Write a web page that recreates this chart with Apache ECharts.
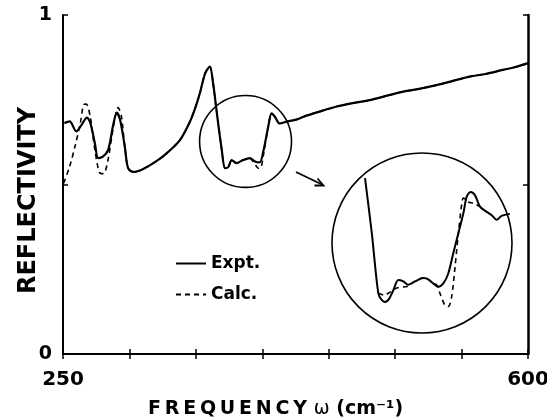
<!DOCTYPE html>
<html>
<head>
<meta charset="utf-8">
<script src="https://cdn.jsdelivr.net/npm/echarts@6/dist/echarts.min.js"></script>
<style>
html,body{margin:0;padding:0;background:#fff;}
#chart{width:547px;height:419px;}
</style>
</head>
<body>
<div id="chart"></div>
<script>
// 主图 实验曲线
var exptFreq = [251, 255, 260, 264, 268, 270.5, 274, 276.5, 280, 284, 288, 290.5, 293, 296.5, 299, 303, 310, 320, 328, 338, 345.5, 349.5, 353, 357, 360.5, 363, 365.5, 369.5, 372, 374.5, 377, 380.5, 385.5, 390.5, 394.5, 398, 401, 404.5, 407, 409.5, 413, 418, 426, 431, 443, 456, 468, 481, 494, 506, 518, 531, 543, 556, 568, 581, 590, 600];
var exptRefl = [0.681, 0.686, 0.657, 0.676, 0.697, 0.683, 0.621, 0.578, 0.582, 0.602, 0.680, 0.712, 0.690, 0.612, 0.548, 0.537, 0.545, 0.568, 0.592, 0.631, 0.685, 0.725, 0.769, 0.828, 0.848, 0.798, 0.720, 0.602, 0.548, 0.552, 0.572, 0.563, 0.572, 0.578, 0.568, 0.565, 0.602, 0.671, 0.710, 0.700, 0.680, 0.685, 0.692, 0.700, 0.715, 0.730, 0.740, 0.749, 0.762, 0.774, 0.782, 0.793, 0.805, 0.818, 0.826, 0.838, 0.846, 0.858];
// 主图 计算曲线
var calcFreq = [250.5, 255, 259, 263, 265.5, 267.5, 270.5, 274, 277.5, 280.5, 283.5, 288, 291.5, 294, 296.5, 299, 303, 310, 320, 328, 338, 345.5, 349.5, 353, 357, 360.5, 363, 365.5, 369.5, 372, 374.5, 377, 380.5, 385.5, 390.5, 394.5, 397, 399, 401, 404.5, 407, 409.5, 413, 418, 426, 431, 443, 456, 468, 481, 494, 506, 518, 531, 543, 556, 568, 581, 590, 600];
var calcRefl = [0.504, 0.553, 0.612, 0.680, 0.735, 0.737, 0.700, 0.602, 0.535, 0.532, 0.565, 0.671, 0.727, 0.700, 0.612, 0.548, 0.537, 0.545, 0.568, 0.592, 0.631, 0.685, 0.725, 0.769, 0.828, 0.848, 0.798, 0.720, 0.602, 0.548, 0.552, 0.572, 0.563, 0.572, 0.578, 0.560, 0.548, 0.550, 0.590, 0.671, 0.710, 0.700, 0.680, 0.685, 0.692, 0.700, 0.715, 0.730, 0.740, 0.749, 0.762, 0.774, 0.782, 0.793, 0.805, 0.818, 0.826, 0.838, 0.846, 0.858];
// 放大图
var insetExptFreq = [365.5, 368.1, 370.6, 371.9, 373.2, 374.8, 376.4, 378.3, 380.2, 382.1, 384.7, 387.9, 389.8, 391.7, 393.7, 395.6, 397.5, 399.4, 401.4, 403.3, 404.6, 406.1, 407.8, 409.7, 412.3, 414.2, 416.1, 418.0, 421.2];
var insetExptRefl = [0.725, 0.642, 0.551, 0.541, 0.538, 0.543, 0.556, 0.571, 0.569, 0.564, 0.569, 0.574, 0.572, 0.566, 0.561, 0.566, 0.581, 0.611, 0.642, 0.672, 0.697, 0.704, 0.699, 0.682, 0.674, 0.669, 0.662, 0.668, 0.671];
var insetCalcFreq = [370.6, 373.0, 374.4, 377.7, 382.1, 384.7, 387.9, 389.8, 391.7, 393.0, 394.3, 396.2, 397.5, 398.8, 400.1, 401.4, 402.7, 403.3, 405.2, 407.1, 409.7];
var insetCalcRefl = [0.551, 0.548, 0.551, 0.559, 0.562, 0.569, 0.574, 0.572, 0.566, 0.564, 0.551, 0.533, 0.531, 0.546, 0.591, 0.642, 0.687, 0.695, 0.689, 0.687, 0.682];
// 放大区域(数据坐标)
var zoomXMin = 352.8, zoomXMax = 422.0, zoomYMin = 0.491, zoomYMax = 0.763;
var xTickLabels = [250, 600];
var yTickLabels = [0, 1];

function zip(a, b){
	var out = [];
	for(var i = 0; i < a.length; i++){
		out.push([a[i], b[i]]);
	}
	return out;
}

var boldFont = 'DejaVu Sans';
var charts = echarts.init(document.getElementById('chart'));

var frame = {lineStyle: {color: '#000', width: 2}};
var option = {
	animation: false,
	backgroundColor: '#fff',
	grid: [
		{left: 63, top: 15, right: 19, bottom: 65, outerBoundsMode: 'none'},
		{left: 332, top: 153, width: 180, height: 180, outerBoundsMode: 'none'}
	],
	legend: {
		orient: 'vertical',
		left: 170,
		top: 250,
		itemWidth: 30,
		itemHeight: 14,
		itemGap: 14,
		data: ['Expt.', 'Calc.'],
		itemStyle: {opacity: 0, color: 'rgba(0,0,0,0)', borderWidth: 0},
		textStyle: {fontFamily: boldFont, fontWeight: 'bold', fontSize: 17, color: '#000'}
	},
	xAxis: [{
		type: 'value', gridIndex: 0, min: 250, max: 600, interval: 50,
		axisLine: frame,
		axisTick: {inside: true, length: 5, lineStyle: {color: '#000', width: 1.5}},
		splitLine: {show: false},
		axisLabel: {
			margin: 16, color: '#000', fontFamily: boldFont, fontWeight: 'bold', fontSize: 20,
			formatter: function(v){ return xTickLabels.indexOf(v) >= 0 ? String(v) : ''; }
		},
		name: '{b|F\u2009R\u2009E\u2009Q\u2009U\u2009E\u2009N\u2009C\u2009Y}  {w|\u03c9}  {b|(cm\u207b\u00b9)}',
		nameLocation: 'middle',
		nameMoveOverlap: false,
		nameGap: 46,
		nameTextStyle: {
			padding: [0, 40, 0, 0],
			rich: {
				b: {fontFamily: boldFont, fontWeight: 'bold', fontSize: 19, color: '#000'},
				w: {fontFamily: 'DejaVu Sans', fontSize: 19, color: '#000'}
			}
		}
	}, {
		type: 'value', gridIndex: 0, min: 250, max: 600, interval: 50, position: 'top',
		axisLine: frame,
		axisTick: {inside: true, length: 5, lineStyle: {color: '#000', width: 1.5}},
		axisLabel: {show: false},
		splitLine: {show: false}
	}, {
		type: 'value', gridIndex: 1, min: zoomXMin, max: zoomXMax, show: false
	}],
	yAxis: [{
		type: 'value', gridIndex: 0, min: 0, max: 1, interval: 0.5,
		axisLine: frame,
		axisTick: {show: true, inside: true, length: 5, lineStyle: {color: '#000', width: 1.5}},
		splitLine: {show: false},
		axisLabel: {
			margin: 11, color: '#000', fontFamily: boldFont, fontWeight: 'bold', fontSize: 19,
			formatter: function(v){ return yTickLabels.indexOf(v) >= 0 ? String(v) : ''; }
		},
		name: 'REFLECTIVITY',
		nameLocation: 'middle',
		nameMoveOverlap: false,
		nameGap: 22,
		nameTextStyle: {
			fontFamily: boldFont, fontWeight: 'bold', fontSize: 24, color: '#000',
			padding: [0, 32, 0, 0]
		}
	}, {
		type: 'value', gridIndex: 0, min: 0, max: 1, interval: 0.5, position: 'right',
		axisLine: {lineStyle: {color: '#000', width: 2.5}},
		axisTick: {show: true, inside: true, length: 5, lineStyle: {color: '#000', width: 1.5}},
		axisLabel: {show: false},
		splitLine: {show: false}
	}, {
		type: 'value', gridIndex: 1, min: zoomYMin, max: zoomYMax, show: false
	}],
	series: [{
		name: 'Expt.', type: 'line', xAxisIndex: 0, yAxisIndex: 0,
		symbol: 'none', smooth: 0.3,
		lineStyle: {color: '#000', width: 2.2, type: 'solid'},
		itemStyle: {color: '#000'},
		data: zip(exptFreq, exptRefl)
	}, {
		name: 'Calc.', type: 'line', xAxisIndex: 0, yAxisIndex: 0,
		symbol: 'none', smooth: 0.3,
		lineStyle: {color: '#000', width: 1.6, type: [5, 4]},
		itemStyle: {color: '#000'},
		data: zip(calcFreq, calcRefl)
	}, {
		name: 'Expt.', type: 'line', xAxisIndex: 2, yAxisIndex: 2,
		symbol: 'none', smooth: 0.3,
		lineStyle: {color: '#000', width: 2, type: 'solid'},
		data: zip(insetExptFreq, insetExptRefl)
	}, {
		name: 'Calc.', type: 'line', xAxisIndex: 2, yAxisIndex: 2,
		symbol: 'none', smooth: 0.3,
		lineStyle: {color: '#000', width: 1.6, type: [5, 4]},
		data: zip(insetCalcFreq, insetCalcRefl)
	}]
};
charts.setOption(option);

// 圆圈与箭头
var c0 = charts.convertToPixel({gridIndex: 0}, [(zoomXMin + zoomXMax) / 2, (zoomYMin + zoomYMax) / 2]);
var e0 = charts.convertToPixel({gridIndex: 0}, [zoomXMax, zoomYMax]);
var c1 = charts.convertToPixel({gridIndex: 1}, [(zoomXMin + zoomXMax) / 2, (zoomYMin + zoomYMax) / 2]);
var e1 = charts.convertToPixel({gridIndex: 1}, [zoomXMax, zoomYMax]);
var r0 = e0[0] - c0[0];
var r1 = e1[0] - c1[0];
charts.setOption({
	graphic: [{
		type: 'circle', shape: {cx: c0[0], cy: c0[1], r: r0},
		style: {fill: 'none', stroke: '#000', lineWidth: 1.6}, z: 100
	}, {
		type: 'circle', shape: {cx: c1[0], cy: c1[1], r: r1},
		style: {fill: 'none', stroke: '#000', lineWidth: 1.6}, z: 100
	}, {
		type: 'line', shape: {x1: 296, y1: 172, x2: 323, y2: 185},
		style: {stroke: '#000', lineWidth: 1.8}, z: 100
	}, {
		type: 'polyline', shape: {points: [[317.5, 178.5], [323.5, 185.5], [314.5, 185.5]]},
		style: {fill: 'none', stroke: '#000', lineWidth: 1.8}, z: 100
	}]
});
</script>
</body>
</html>
